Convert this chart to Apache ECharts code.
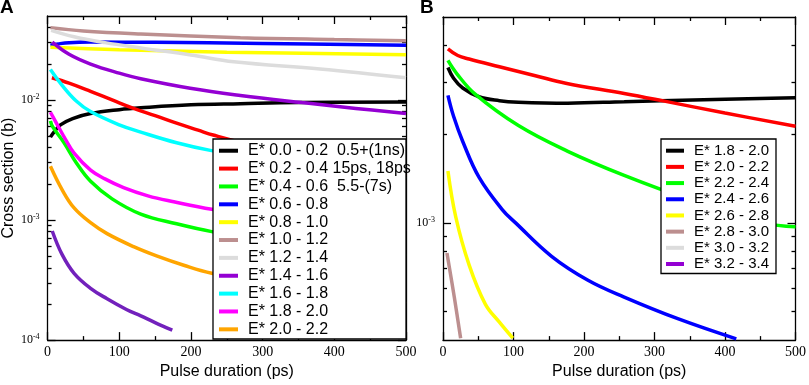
<!DOCTYPE html>
<html><head><meta charset="utf-8">
<script src="https://cdn.jsdelivr.net/npm/echarts@6/dist/echarts.min.js"></script>
<style>html,body{margin:0;padding:0;background:#fff}#c{width:809px;height:385px}</style>
</head><body><div id="c"></div>
<script>
// ---------- tick values ----------
const xTicks = [0, 100, 200, 300, 400, 500];
const yMajorA = [1e-4, 1e-3, 1e-2];
const yMinorA = [2e-4,3e-4,4e-4,5e-4,6e-4,7e-4,8e-4,9e-4,2e-3,3e-3,4e-3,5e-3,6e-3,7e-3,8e-3,9e-3,2e-2,3e-2,4e-2];
const yMajorB = [1e-3];
const yMinorB = [5e-4,6e-4,7e-4,8e-4,9e-4,2e-3,3e-3,4e-3];

// ---------- panel A series ----------
const A_00_02 = [[4,0.0049],[10,0.0055],[18,0.0062],[35,0.007],[60,0.0077],[100,0.0083],[130,0.0086],[200,0.0091],[269,0.0093],[350,0.0095],[500,0.0096]];
const A_02_04 = [[6,0.0153],[30,0.0138],[60,0.0118],[90,0.0100],[120,0.0085],[150,0.0074],[180,0.0064],[210,0.0056],[231,0.0051],[300,0.0040],[400,0.0030],[500,0.0023]];
const A_04_06 = [[4,0.0067],[7,0.006],[23,0.0044],[40,0.003],[60,0.0021],[90,0.0015],[130,0.00112],[180,0.00093],[229,0.0008],[300,0.00068],[400,0.00057],[500,0.0005]];
const A_06_08 = [[4,0.0285],[15,0.0293],[30,0.03],[60,0.0303],[150,0.0302],[300,0.0295],[500,0.0285]];
const A_08_10 = [[4,0.0275],[100,0.0262],[250,0.025],[500,0.0238]];
const A_10_12 = [[4,0.040],[50,0.0375],[130,0.0354],[269,0.033],[400,0.0318],[500,0.0311]];
const A_12_14 = [[5,0.038],[37,0.0336],[80,0.030],[130,0.0271],[200,0.0237],[260,0.0208],[380,0.0181],[500,0.0153]];
const A_14_16 = [[6.5,0.0303],[30,0.024],[60,0.0199],[100,0.0167],[130,0.015],[199,0.0125],[269,0.0109],[355,0.0095],[430,0.0085],[500,0.0077]];
const A_16_18 = [[4,0.0179],[20,0.0133],[40,0.0098],[60,0.0080],[100,0.0062],[130,0.0054],[180,0.0044],[227,0.0038],[300,0.0032],[400,0.0026],[500,0.0022]];
const A_18_20 = [[4,0.0079],[15,0.006],[25,0.0047],[37,0.0036],[60,0.0026],[80,0.0022],[106,0.00186],[140,0.00159],[176,0.00142],[229,0.00123],[300,0.00107],[400,0.00092],[500,0.0008]];
const A_20_22 = [[4,0.0028],[20,0.0018],[37,0.00126],[60,0.00095],[83,0.00077],[120,0.0006],[153,0.0005],[190,0.00042],[229,0.00036],[300,0.0003],[400,0.00024],[500,0.0002]];
const A_extra = [[6.5,0.00081],[20,0.00052],[37,0.00036],[60,0.00027],[83,0.000221],[110,0.00018],[130,0.000159],[150,0.00014],[174,0.000121]];

// ---------- panel B series ----------
const B_18_20 = [[7,0.00337],[15,0.0031],[28,0.00287],[51,0.00268],[80,0.0026],[107,0.00257],[177,0.00255],[257,0.00258],[309,0.0026],[400,0.00263],[500,0.00266]];
const B_20_22 = [[7,0.0039],[21,0.0037],[37,0.0036],[80,0.00339],[131,0.00316],[174,0.00298],[257,0.00275],[314,0.00259],[400,0.00236],[500,0.00213]];
const B_22_24 = [[7,0.00356],[20,0.0032],[46,0.00273],[107,0.00214],[177,0.00175],[257,0.00145],[350,0.0012],[455,0.001],[500,0.00097]];
const B_24_26 = [[7,0.00271],[15,0.0023],[28,0.00189],[51,0.00143],[84,0.00111],[103,0.001],[154,0.00077],[205,0.00064],[257,0.00056],[333,0.000473],[416,0.000404]];
const B_26_28 = [[7,0.0015],[18,0.00105],[37,0.00072],[60,0.00053],[80,0.00046],[99,0.000406]];
const B_28_30 = [[5.6,0.00079],[16,0.00056],[25,0.000406]];
const B_30_32 = [];
const B_32_34 = [];

const namesA = ['E* 0.0 - 0.2  0.5+(1ns)','E* 0.2 - 0.4 15ps, 18ps','E* 0.4 - 0.6  5.5-(7s)','E* 0.6 - 0.8','E* 0.8 - 1.0','E* 1.0 - 1.2','E* 1.2 - 1.4','E* 1.4 - 1.6','E* 1.6 - 1.8','E* 1.8 - 2.0','E* 2.0 - 2.2'];
const namesB = ['E* 1.8 - 2.0','E* 2.0 - 2.2','E* 2.2 - 2.4','E* 2.4 - 2.6','E* 2.6 - 2.8','E* 2.8 - 3.0','E* 3.0 - 3.2','E* 3.2 - 3.4'];
const colorsA = ['#000000','#ff0000','#00ff00','#0000ff','#ffff00','#bc8f8f','#dcdcdc','#9400d3','#00ffff','#ff00ff','#ffa500'];
const colorsB = ['#000000','#ff0000','#00ff00','#0000ff','#ffff00','#bc8f8f','#dcdcdc','#9400d3'];
const dataA = [A_00_02,A_02_04,A_04_06,A_06_08,A_08_10,A_10_12,A_12_14,A_14_16,A_16_18,A_18_20,A_20_22];
const dataB = [B_18_20,B_20_22,B_22_24,B_24_26,B_26_28,B_28_30,B_30_32,B_32_34];
const SUFFIX_B = ' \u200b(B)';

const BLACK = '#000';
const LW = 1.3;
function line(name, data, color, xi, yi) {
  return {type:'line', name, data, xAxisIndex:xi, yAxisIndex:yi, showSymbol:false, symbol:'none',
    smooth:0.4, lineStyle:{color, width:3.5}, itemStyle:{color},
    clip:true, silent:true, animation:false, z:2};
}
function xAx(gi, pos, showLabel) {
  const o = {type:'value', gridIndex:gi, position:pos, min:0, max:500, interval:100,
    axisLine:{show:true, onZero:false, lineStyle:{color:BLACK, width:LW}},
    axisTick:{show:true, inside:true, length:8, lineStyle:{color:BLACK, width:LW}},
    minorTick:{show:true, splitNumber:2, length:4, lineStyle:{color:BLACK, width:LW}},
    splitLine:{show:false}, minorSplitLine:{show:false},
    axisLabel:{show:showLabel, fontFamily:'Liberation Serif', fontSize:14, color:BLACK, margin:5}};
  if (showLabel) {
    o.name = 'Pulse duration (ps)'; o.nameLocation = 'middle'; o.nameGap = 15;
    o.nameTextStyle = {fontFamily:'Liberation Sans', fontSize:16, color:BLACK};
  }
  return o;
}
function yAx(gi, pos, min, max, ticks, len, labels, line) {
  const o = {type:'log', logBase:10, gridIndex:gi, position:pos, min, max, offset:0,
    axisLine:{show:line, lineStyle:{color:BLACK, width:LW}},
    axisTick:{show:true, inside:true, length:len, customValues:ticks, lineStyle:{color:BLACK, width:LW}},
    splitLine:{show:false},
    axisLabel:{show:!!labels}};
  if (labels) {
    o.axisLabel = {show:true, customValues:labels, margin:8, color:BLACK, fontFamily:'Liberation Serif', fontSize:12, lineHeight:14,
      formatter: v => '10{s|' + Math.round(Math.log10(v)) + '}',
      rich:{s:{fontFamily:'Liberation Serif', fontSize:8, color:BLACK, verticalAlign:'top', padding:[0,0,6,0]}}};
  }
  return o;
}

const series = [];
dataA.forEach((d,i) => series.push(line(namesA[i], d, colorsA[i], 0, 0)));
series.push(line('indigo', A_extra, '#7221bc', 0, 0));
dataB.forEach((d,i) => series.push(line(namesB[i] + SUFFIX_B, d, colorsB[i], 2, 4)));

const yA0 = yAx(0,'left',1e-4,0.05,yMajorA,8,yMajorA,true);
yA0.name = 'Cross section (b)'; yA0.nameLocation = 'middle'; yA0.nameGap = 28;
yA0.nameTextStyle = {fontFamily:'Liberation Sans', fontSize:16, color:BLACK};

const option = {
  animation:false,
  backgroundColor:'#fff',
  title:[
    {text:'A', left:0, top:-2, padding:0, textStyle:{fontFamily:'Liberation Sans', fontWeight:'bold', fontSize:19, color:BLACK}},
    {text:'B', left:420, top:-2, padding:0, textStyle:{fontFamily:'Liberation Sans', fontWeight:'bold', fontSize:19, color:BLACK}}
  ],
  grid:[
    {left:47, top:16, width:359, height:333},
    {left:443, top:17, width:356, height:329}
  ],
  xAxis:[xAx(0,'bottom',true), xAx(0,'top',false), xAx(1,'bottom',true), xAx(1,'top',false)],
  yAxis:[
    yA0,
    yAx(0,'left',1e-4,0.05,yMinorA,4,null,false),
    yAx(0,'right',1e-4,0.05,yMajorA,8,null,true),
    yAx(0,'right',1e-4,0.05,yMinorA,4,null,false),
    yAx(1,'left',4e-4,5e-3,yMajorB,8,yMajorB,true),
    yAx(1,'left',4e-4,5e-3,yMinorB,4,null,false),
    yAx(1,'right',4e-4,5e-3,yMajorB,8,null,true),
    yAx(1,'right',4e-4,5e-3,yMinorB,4,null,false)
  ],
  legend:[
    {data:namesA, orient:'vertical', left:219, top:141.8, padding:0, itemGap:0, itemWidth:19, itemHeight:4, icon:'rect',
     selectedMode:false, z:6, textStyle:{fontFamily:'Liberation Sans', fontSize:16, color:BLACK, lineHeight:17.86, padding:[0,0,0,5]}},
    {data:namesB.map(n => n + SUFFIX_B), orient:'vertical', left:666, top:142.6, padding:0, itemGap:0, itemWidth:18, itemHeight:4, icon:'rect',
     selectedMode:false, z:6, formatter: n => n.replace(SUFFIX_B,''),
     textStyle:{fontFamily:'Liberation Sans', fontSize:15, color:BLACK, lineHeight:16.19, padding:[0,0,0,5]}}
  ],
  graphic:[
    {type:'rect', z:5, silent:true, shape:{x:213, y:139, width:193, height:200}, style:{fill:'#fff', stroke:BLACK, lineWidth:LW}},
    {type:'rect', z:5, silent:true, shape:{x:661, y:139, width:115, height:134.5}, style:{fill:'#fff', stroke:BLACK, lineWidth:LW}}
  ],
  series
};
const chart = echarts.init(document.getElementById('c'), null, {renderer:'canvas'});
chart.setOption(option);
</script>
</body></html>
